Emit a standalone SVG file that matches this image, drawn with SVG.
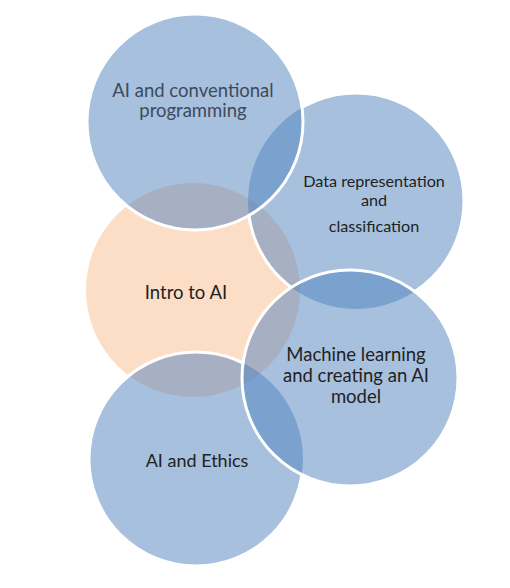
<svg xmlns="http://www.w3.org/2000/svg" width="510" height="588" viewBox="0 0 510 588">
  <style>
    .blue { fill: rgb(79,129,189); fill-opacity: 0.5; }
    .peach { fill: #FCDEC6; }
    .edge { fill: none; stroke: #FFFFFF; stroke-width: 3; }
    .lbl { font-family: Lato, "Open Sans", sans-serif; fill: #222222; text-anchor: middle; }
  </style>
  <defs>
    <clipPath id="outC1C4">
      <path clip-rule="evenodd" d="M0 0H510V588H0Z M87 122a108 108 0 1 0 216 0a108 108 0 1 0 -216 0Z M242 378a108 108 0 1 0 216 0a108 108 0 1 0 -216 0Z"/>
    </clipPath>
    <clipPath id="outC4">
      <path clip-rule="evenodd" d="M0 0H510V588H0Z M242 378a108 108 0 1 0 216 0a108 108 0 1 0 -216 0Z"/>
    </clipPath>
  </defs>

  <g id="intro-to-ai">
    <circle class="peach" cx="193" cy="290" r="107"/>
  </g>

  <g id="data-representation">
    <circle class="blue" cx="356" cy="201" r="108"/>
    <circle class="edge" cx="356" cy="201" r="108" clip-path="url(#outC1C4)"/>
  </g>

  <g id="ai-and-ethics">
    <circle class="blue" cx="196" cy="459" r="107"/>
    <circle class="edge" cx="196" cy="459" r="107" clip-path="url(#outC4)"/>
  </g>

  <g id="ai-conventional">
    <circle class="blue" cx="195" cy="122" r="108"/>
    <circle class="edge" cx="195" cy="122" r="108"/>
  </g>

  <g id="machine-learning">
    <circle class="blue" cx="350" cy="378" r="108"/>
    <circle class="edge" cx="350" cy="378" r="108"/>
  </g>

  <g id="connectors"></g>

  <g id="labels">
    <text class="lbl" style="fill:#3E4A5C" font-size="18.5" x="193" y="97">AI and conventional</text>
    <text class="lbl" style="fill:#3E4A5C" font-size="18.5" x="193" y="117">programming</text>
    <text class="lbl" font-size="16.2" x="374" y="187">Data representation</text>
    <text class="lbl" font-size="16.2" x="374" y="206">and</text>
    <text class="lbl" font-size="16.2" x="374" y="232">classification</text>
    <text class="lbl" font-size="18.5" x="186" y="299">Intro to AI</text>
    <text class="lbl" font-size="18.5" x="356" y="361">Machine learning</text>
    <text class="lbl" font-size="18.5" x="356" y="382">and creating an AI</text>
    <text class="lbl" font-size="18.5" x="356" y="403">model</text>
    <text class="lbl" font-size="18" x="197" y="467">AI and Ethics</text>
  </g>
</svg>
